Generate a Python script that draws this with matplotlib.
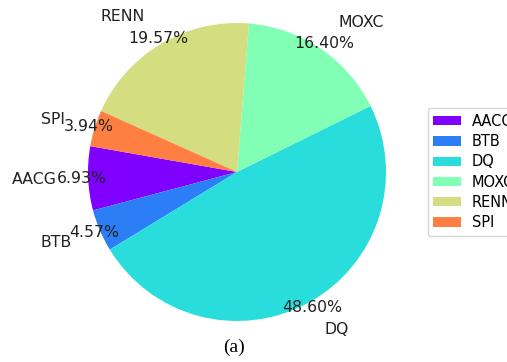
import numpy as np
import matplotlib
matplotlib.use('Agg')
import matplotlib.pyplot as plt

labels = ['AACG', 'BTB', 'DQ', 'MOXC', 'RENN', 'SPI']
shares = [6.93, 4.57, 48.60, 16.40, 19.57, 3.94]

colors = plt.cm.rainbow(np.arange(len(labels)) / len(labels))

fig = plt.figure(figsize=(5.07, 3.62), dpi=100)
# square axes so the pie sits where it does in the original
side = 372.5
ax = fig.add_axes([50.75 / 507, 3.75 / 362, side / 507, side / 362])

wedges, texts, autotexts = ax.pie(shares, labels=labels, colors=colors,
                                  autopct='%.2f%%', startangle=170,
                                  pctdistance=1.04, labeldistance=1.21,
                                  textprops={'fontsize': 11.3, 'color': '#222222'})
ax.set_xlim(-1.25, 1.25)
ax.set_ylim(-1.25, 1.25)
ax.set_aspect('equal')

fig.legend(wedges, labels, loc='center left',
           bbox_to_anchor=(427.5 / 507, 190 / 362), fontsize=10.5,
           labelspacing=0.36, handlelength=1.9, handleheight=0.6,
           handletextpad=0.75, borderaxespad=0)

fig.text(234 / 507, 15 / 362, '(a)', family='Liberation Serif', fontsize=14,
         ha='center', va='center')

fig.savefig('out.png', dpi=100)
